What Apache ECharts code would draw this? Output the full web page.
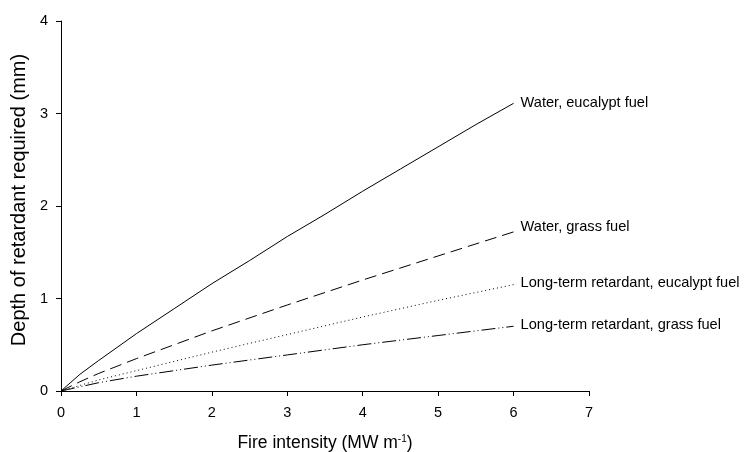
<!DOCTYPE html>
<html>
<head>
<meta charset="utf-8">
<script src="https://cdn.jsdelivr.net/npm/echarts@6/dist/echarts.min.js"></script>
<style>
  html, body { margin: 0; padding: 0; background: #fff; }
  #chart { width: 745px; height: 452px; }
</style>
</head>
<body>
<div id="chart"></div>
<script>
// Fire intensity (MW m-1) vs. depth of retardant required (mm)
const waterEucalypt = [[0,0],[0.25,0.18],[0.5,0.33],[1,0.62],[1.5,0.89],[2,1.16],[2.5,1.41],[3,1.67],[3.5,1.91],[4,2.16],[4.5,2.4],[5,2.64],[5.5,2.88],[6,3.11]];
const waterGrass = [[0,0],[0.25,0.1],[0.5,0.19],[1,0.35],[2,0.65],[3,0.93],[4,1.2],[5,1.46],[6,1.72]];
const longTermEucalypt = [[0,0],[0.5,0.12],[1,0.22],[2,0.42],[3,0.61],[4,0.8],[5,0.98],[6,1.15]];
const longTermGrass = [[0,0],[0.5,0.09],[1,0.16],[2,0.28],[3,0.39],[4,0.5],[5,0.6],[6,0.7]];
const seriesNames = ['Water, eucalypt fuel','Water, grass fuel','Long-term retardant, eucalypt fuel','Long-term retardant, grass fuel'];

const font = 'Liberation Sans, Arial, sans-serif';
const chart = echarts.init(document.getElementById('chart'));

function lineSeries(name, data, dash, labelOffset) {
  return {
    name: name,
    type: 'line',
    data: data,
    showSymbol: false,
    animation: false,
    lineStyle: { color: '#000', width: 1, type: dash },
    endLabel: {
      show: true,
      formatter: '{a}',
      color: '#000',
      fontFamily: font,
      fontSize: 14.6,
      distance: 7,
      offset: labelOffset
    }
  };
}

chart.setOption({
  backgroundColor: '#fff',
  animation: false,
  grid: { left: 61, right: 156, top: 21, bottom: 61, containLabel: false, outerBoundsMode: 'none' },
  xAxis: {
    type: 'value', min: 0, max: 7, interval: 1,
    name: 'Fire intensity (MW m{sup|-1})',
    nameLocation: 'middle', nameGap: 43,
    nameTextStyle: {
      color: '#000', fontFamily: font, fontSize: 17.5,
      rich: { sup: { fontSize: 10, verticalAlign: 'top', padding: [0, 0, 9, 0], color: '#000', fontFamily: font } }
    },
    axisLine: { lineStyle: { color: '#000', width: 1 } },
    axisTick: { show: true, length: 5, lineStyle: { color: '#000' } },
    axisLabel: { color: '#000', fontFamily: font, fontSize: 14.5, margin: 14 },
    splitLine: { show: false }
  },
  yAxis: {
    type: 'value', min: 0, max: 4, interval: 1,
    name: 'Depth of retardant required (mm)',
    nameLocation: 'middle', nameGap: 26,
    nameTextStyle: { color: '#000', fontFamily: font, fontSize: 20, padding: [0, 0, 0, 12] },
    axisLine: { show: true, lineStyle: { color: '#000', width: 1 } },
    axisTick: { show: true, length: 5, lineStyle: { color: '#000' } },
    axisLabel: { color: '#000', fontFamily: font, fontSize: 14.5, margin: 13 },
    splitLine: { show: false }
  },
  series: [
    lineSeries(seriesNames[0], waterEucalypt, 'solid', [0, 0]),
    lineSeries(seriesNames[1], waterGrass, [12, 6], [0, -5]),
    lineSeries(seriesNames[2], longTermEucalypt, [1, 3], [0, -2]),
    lineSeries(seriesNames[3], longTermGrass, [14, 3, 1, 3, 1, 3], [0, -1])
  ]
});
</script>
</body>
</html>
